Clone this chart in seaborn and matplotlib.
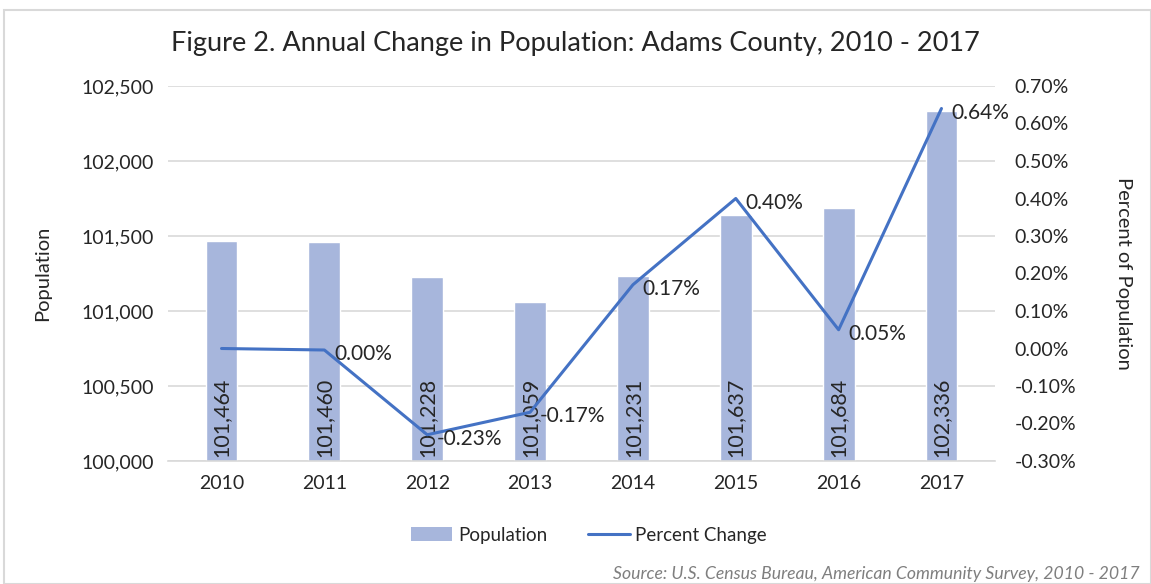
import numpy as np
import pandas as pd
import seaborn as sns
import matplotlib.pyplot as plt
from matplotlib.patches import Rectangle
from matplotlib.lines import Line2D
from matplotlib.patches import Patch
from matplotlib.ticker import FuncFormatter, MultipleLocator

# data
years = ['2010', '2011', '2012', '2013', '2014', '2015', '2016', '2017']
population = [101464, 101460, 101228, 101059, 101231, 101637, 101684, 102336]
pct_change = [0.0, -0.004, -0.23, -0.17, 0.17, 0.40, 0.05, 0.64]
pct_labels = ['', '0.00%', '-0.23%', '-0.17%', '0.17%', '0.40%', '0.05%', '0.64%']

BAR_COLOR = '#a7b6dc'
LINE_COLOR = '#4472c4'
GRID_COLOR = '#d9d9d9'
TEXT_COLOR = '#262626'

sns.set_style('white')
plt.rcParams['font.family'] = ['Lato', 'DejaVu Sans']

df = pd.DataFrame({'Year': years, 'Population': population, 'Pct': pct_change})

fig = plt.figure(figsize=(11.51, 5.84), dpi=100)
ax = fig.add_axes([168 / 1151, 123 / 584, (995 - 168) / 1151, (461 - 86) / 584])

# outer frame of the chart
fig.patches.append(Rectangle((4 / 1151, 0), 1 - 4 / 1151, 1 - 10 / 584, transform=fig.transFigure,
                             fill=False, edgecolor=GRID_COLOR, linewidth=1.5))

sns.barplot(data=df, x='Year', y='Population', color=BAR_COLOR, width=0.31, saturation=1, ax=ax, zorder=2)
ax.set_ylim(100000, 102500)
ax.yaxis.set_major_locator(MultipleLocator(500))
ax.yaxis.set_major_formatter(FuncFormatter(lambda v, p: '{:,.0f}'.format(v)))
ax.grid(axis='y', color=GRID_COLOR, linewidth=1.2, zorder=0)
ax.set_axisbelow(True)
for s in ['top', 'right', 'left']:
    ax.spines[s].set_visible(False)
ax.spines['bottom'].set_color(GRID_COLOR)
ax.spines['bottom'].set_linewidth(1.2)
ax.tick_params(axis='both', length=0, labelsize=14, colors=TEXT_COLOR, pad=10)
ax.set_xlabel('')
ax.set_ylabel('Population', fontsize=14.5, color=TEXT_COLOR, labelpad=22)

# bar value labels (rotated, at bar base)
for i, v in enumerate(population):
    ax.annotate('{:,}'.format(v), (i, 100000), xytext=(0, 3), textcoords='offset points',
                rotation=90, ha='center', va='bottom', fontsize=15.5, color=TEXT_COLOR)

# percent change line on secondary axis
ax2 = ax.twinx()
xpos = np.arange(len(years))
sns.lineplot(x=xpos, y=pct_change, color=LINE_COLOR, linewidth=2.2, ax=ax2, zorder=3)
ax2.set_ylim(-0.30, 0.70)
ax2.yaxis.set_major_locator(MultipleLocator(0.10))
ax2.yaxis.set_major_formatter(FuncFormatter(lambda v, p: '{:.2f}%'.format(v + 0.0)))
for s in ['top', 'right', 'left', 'bottom']:
    ax2.spines[s].set_visible(False)
ax2.tick_params(axis='y', length=0, labelsize=14, colors=TEXT_COLOR, pad=14)
ax2.set_ylabel('Percent of Population', fontsize=14.5, color=TEXT_COLOR, rotation=-90, labelpad=40)
ax2.set_xlim(ax.get_xlim())

for i, (v, lab) in enumerate(zip(pct_change, pct_labels)):
    if lab:
        ax2.annotate(lab, (i, v), xytext=(7, -3), textcoords='offset points',
                     ha='left', va='center', fontsize=15, color=TEXT_COLOR)

fig.suptitle('Figure 2. Annual Change in Population: Adams County, 2010 - 2017',
             y=1 - 44 / 584, va='center', fontsize=19.5, color=TEXT_COLOR)

handles = [Patch(facecolor=BAR_COLOR, edgecolor='none', label='Population'),
           Line2D([0], [0], color=LINE_COLOR, linewidth=2.2, label='Percent Change')]
fig.legend(handles=handles, loc='center', bbox_to_anchor=(589 / 1151, 1 - 535 / 584), ncol=2, frameon=False,
           fontsize=13.5, handlelength=2.2, columnspacing=2.2, handletextpad=0.3, labelcolor=TEXT_COLOR)

fig.text(1140 / 1151, 1 - 574 / 584, 'Source: U.S. Census Bureau, American Community Survey, 2010 - 2017',
         ha='right', va='center', fontsize=12.7, style='italic', color='#7f7f7f')

fig.savefig('out.png', dpi=100)
